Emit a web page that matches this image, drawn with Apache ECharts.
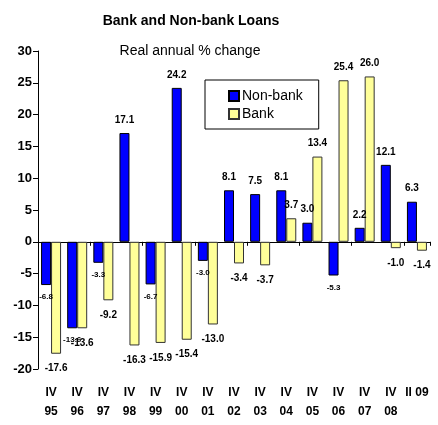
<!DOCTYPE html>
<html><head><meta charset="utf-8">
<script src="https://cdn.jsdelivr.net/npm/echarts@6/dist/echarts.min.js"></script>
<style>html,body{margin:0;padding:0;background:#fff}#c{width:438px;height:425px}</style>
</head><body><div id="c"></div>
<script>
var quarters = ['IV','IV','IV','IV','IV','IV','IV','IV','IV','IV','IV','IV','IV','IV','II 09'];
var years = ['95','96','97','98','99','00','01','02','03','04','05','06','07','08',''];
var categories = quarters.map(function (q, i) { return q + ' ' + years[i]; });
var nonBank = [-6.8, -13.6, -3.3, 17.1, -6.7, 24.2, -3.0, 8.1, 7.5, 8.1, 3.0, -5.3, 2.2, 12.1, 6.3];
var bank = [-17.6, -13.6, -9.2, -16.3, -15.9, -15.4, -13.0, -3.4, -3.7, 3.7, 13.4, 25.4, 26.0, -1.0, -1.4];
var yTicks = [-20, -15, -10, -5, 0, 5, 10, 15, 20, 25, 30];

var FONT = '"Liberation Sans",Arial,sans-serif';

function toData(arr, negSize, negDist) {
  return arr.map(function (v) {
    return {
      value: v,
      label: {
        position: v >= 0 ? 'top' : 'bottom',
        fontSize: v >= 0 ? 10 : negSize,
        distance: v >= 0 ? 8 : negDist
      }
    };
  });
}
function rowAxis(labels, margin) {
  return {type: 'category', data: labels, position: 'bottom',
    axisLine: {show: false, onZero: false}, axisTick: {show: false},
    axisLabel: {show: true, interval: 0, margin: margin, fontFamily: FONT, fontSize: 12,
                fontWeight: 'bold', color: '#000', hideOverlap: false}};
}

var chart = echarts.init(document.getElementById('c'), null, {renderer: 'canvas'});
chart.setOption({
  animation: false,
  backgroundColor: '#ffffff',
  textStyle: {fontFamily: FONT},
  title: [
    {text: 'Bank and Non-bank Loans', left: 186, top: 9, textAlign: 'center',
     textStyle: {fontFamily: FONT, fontSize: 14, fontWeight: 'bold', color: '#000'}},
    {text: 'Real annual % change', left: 185, top: 39, textAlign: 'center',
     textStyle: {fontFamily: FONT, fontSize: 14, fontWeight: 'normal', color: '#000'}}
  ],
  legend: {
    orient: 'vertical', left: 205, top: 80,
    backgroundColor: '#fff', borderColor: '#000', borderWidth: 1,
    padding: [9, 16, 8, 23], itemGap: 4,
    itemWidth: 10, itemHeight: 10, icon: 'rect',
    textStyle: {fontFamily: FONT, fontSize: 14, color: '#000', padding: [0, 0, 0, -2]},
    data: ['Non-bank', 'Bank']
  },
  grid: {left: 38, right: 8, top: 51, bottom: 56, containLabel: false},
  xAxis: [
    {type: 'category', data: categories, position: 'bottom',
     axisLine: {onZero: true, lineStyle: {color: '#000', width: 1}},
     axisTick: {show: true, length: 4, lineStyle: {color: '#000'}},
     axisLabel: {show: false}},
    rowAxis(quarters, 18),
    rowAxis(years, 37)
  ],
  yAxis: {
    type: 'value', min: -20, max: 30, interval: 5,
    axisLine: {show: true, lineStyle: {color: '#000'}},
    axisTick: {show: true, length: 5, lineStyle: {color: '#000'}},
    splitLine: {show: false},
    axisLabel: {fontFamily: FONT, fontSize: 13, fontWeight: 'bold', color: '#000', margin: 6,
      formatter: function (v) { return yTicks.indexOf(v) >= 0 ? String(v) : ''; }}
  },
  series: [
    {name: 'Non-bank', type: 'bar', xAxisIndex: 0, barWidth: 10, barGap: '0%',
     itemStyle: {color: '#0000FF', borderColor: '#000', borderWidth: 1},
     label: {show: true, fontFamily: FONT, fontWeight: 'bold', color: '#000',
             formatter: function (p) { return p.value.toFixed(1); }},
     data: toData(nonBank, 8, 8)},
    {name: 'Bank', type: 'bar', xAxisIndex: 0, barWidth: 10, barGap: '0%',
     itemStyle: {color: '#FFFF99', borderColor: '#333', borderWidth: 1},
     label: {show: true, fontFamily: FONT, fontWeight: 'bold', color: '#000',
             formatter: function (p) { return p.value.toFixed(1); }},
     data: toData(bank, 10, 10)}
  ]
});
</script></body></html>
